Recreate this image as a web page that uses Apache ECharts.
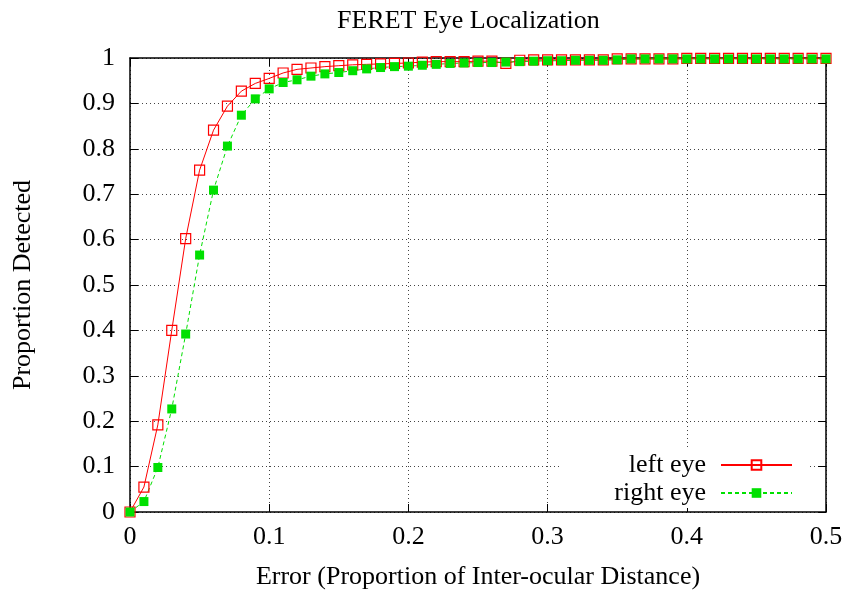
<!DOCTYPE html>
<html>
<head>
<meta charset="utf-8">
<script src="https://cdn.jsdelivr.net/npm/echarts@6/dist/echarts.min.js"></script>
<style>
  html, body { margin: 0; padding: 0; background: #fff; }
  #chart { width: 846px; height: 595px; }
</style>
</head>
<body>
<div id="chart"></div>
<script>
// Localization error thresholds (proportion of inter-ocular distance)
const errorLevels = [
  0.00, 0.01, 0.02, 0.03, 0.04, 0.05, 0.06, 0.07, 0.08, 0.09,
  0.10, 0.11, 0.12, 0.13, 0.14, 0.15, 0.16, 0.17, 0.18, 0.19,
  0.20, 0.21, 0.22, 0.23, 0.24, 0.25, 0.26, 0.27, 0.28, 0.29,
  0.30, 0.31, 0.32, 0.33, 0.34, 0.35, 0.36, 0.37, 0.38, 0.39,
  0.40, 0.41, 0.42, 0.43, 0.44, 0.45, 0.46, 0.47, 0.48, 0.49,
  0.50
];

// Proportion of faces detected within each error level
const leftEye = [
  0.000, 0.055, 0.192, 0.400, 0.602, 0.753, 0.841, 0.894, 0.927, 0.944,
  0.955, 0.967, 0.975, 0.978, 0.981, 0.983, 0.985, 0.986, 0.987, 0.988,
  0.989, 0.991, 0.992, 0.992, 0.992, 0.993, 0.993, 0.988, 0.995, 0.996,
  0.996, 0.996, 0.996, 0.996, 0.996, 0.998, 0.998, 0.998, 0.998, 0.998,
  0.999, 0.999, 0.999, 0.999, 0.999, 0.999, 0.999, 0.999, 0.999, 0.999,
  0.999
];

const rightEye = [
  0.000, 0.023, 0.098, 0.227, 0.392, 0.566, 0.709, 0.806, 0.874, 0.910,
  0.932, 0.946, 0.952, 0.960, 0.965, 0.968, 0.972, 0.976, 0.979, 0.981,
  0.982, 0.984, 0.986, 0.988, 0.989, 0.990, 0.990, 0.991, 0.992, 0.993,
  0.994, 0.994, 0.995, 0.995, 0.995, 0.996, 0.998, 0.998, 0.998, 0.998,
  0.998, 0.998, 0.998, 0.998, 0.998, 0.998, 0.998, 0.998, 0.998, 0.998,
  0.998
];

const xTicks = [0, 0.1, 0.2, 0.3, 0.4, 0.5];
const yTicks = [0, 0.1, 0.2, 0.3, 0.4, 0.5, 0.6, 0.7, 0.8, 0.9, 1];

const FONT = '"Liberation Serif", "Times New Roman", serif';
const pairs = (ys) => errorLevels.map((x, i) => [x, ys[i]]);

const tickStyle = { show: true, inside: true, length: 8, lineStyle: { color: '#000', width: 1 } };
const frameLine = { show: true, onZero: false, lineStyle: { color: '#000', width: 1.5 } };
const gridLine = { show: true, lineStyle: { color: '#444', width: 1, type: [1, 3] } };
const labelStyle = { fontFamily: FONT, fontSize: 26, color: '#000' };

const chart = echarts.init(document.getElementById('chart'), null, { renderer: 'canvas' });

chart.setOption({
  backgroundColor: '#fff',
  animation: false,
  title: {
    text: 'FERET Eye Localization',
    left: 332,
    top: 3,
    textStyle: { fontFamily: FONT, fontSize: 26, fontWeight: 'normal', color: '#000' }
  },
  grid: { left: 130, right: 20, top: 58, bottom: 83, containLabel: false },
  legend: {
    orient: 'vertical',
    align: 'right',
    right: 38,
    top: 450,
    padding: [2, 15, 2, 55],
    backgroundColor: '#fff',
    itemWidth: 71,
    itemHeight: 12,
    itemGap: 2,
    textStyle: { fontFamily: FONT, fontSize: 26, color: '#000', padding: [0, 10, 0, 0], lineHeight: 25 },
    data: ['left eye', 'right eye']
  },
  xAxis: [
    {
      type: 'value', min: 0, max: 0.5, interval: 0.1,
      name: 'Error (Proportion of Inter-ocular Distance)',
      nameLocation: 'middle', nameGap: 52,
      nameTextStyle: labelStyle,
      axisLine: frameLine, axisTick: tickStyle,
      axisLabel: Object.assign({ margin: 12, formatter: (v) => String(+v.toFixed(1)) }, labelStyle),
      splitLine: gridLine
    },
    {
      type: 'value', min: 0, max: 0.5, interval: 0.1, position: 'top',
      axisLine: frameLine, axisTick: tickStyle,
      axisLabel: { show: false }, splitLine: { show: false }
    }
  ],
  yAxis: [
    {
      type: 'value', min: 0, max: 1, interval: 0.1,
      name: 'Proportion Detected',
      nameLocation: 'middle', nameGap: 94, nameRotate: 90,
      nameTextStyle: labelStyle,
      axisLine: frameLine, axisTick: tickStyle,
      axisLabel: Object.assign({ margin: 15, formatter: (v) => String(+v.toFixed(1)) }, labelStyle),
      splitLine: gridLine
    },
    {
      type: 'value', min: 0, max: 1, interval: 0.1, position: 'right',
      axisLine: frameLine, axisTick: tickStyle,
      axisLabel: { show: false }, splitLine: { show: false }
    }
  ],
  series: [
    {
      name: 'left eye',
      type: 'line',
      data: pairs(leftEye),
      symbol: 'rect',
      symbolSize: 10,
      showAllSymbol: true,
      clip: false,
      lineStyle: { color: '#ff0000', width: 1 },
      itemStyle: { color: 'rgba(255,255,255,0)', borderColor: '#ff0000', borderWidth: 1.2 }
    },
    {
      name: 'right eye',
      type: 'line',
      data: pairs(rightEye),
      symbol: 'rect',
      symbolSize: 9,
      showAllSymbol: true,
      clip: false,
      lineStyle: { color: '#00e000', width: 1, type: [4, 3] },
      itemStyle: { color: '#00e000' }
    }
  ]
});
</script>
</body>
</html>
